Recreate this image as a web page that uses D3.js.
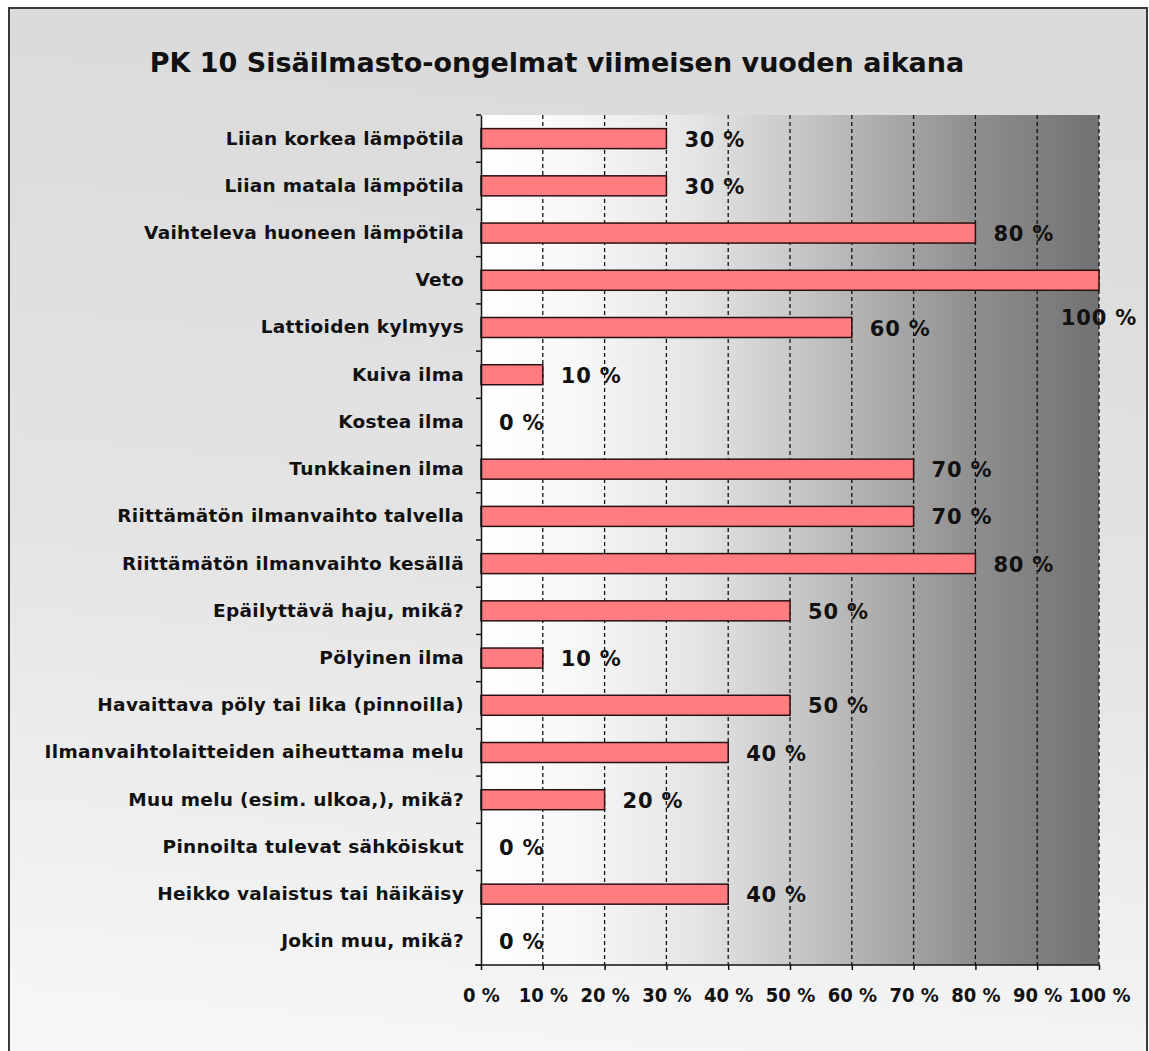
<!DOCTYPE html>
<html><head><meta charset="utf-8">
<script src="https://cdn.jsdelivr.net/npm/d3@7"></script>
<style>body{margin:0;background:#fff}svg{display:block}</style>
</head><body>
<script>
const title = "PK 10 Sisäilmasto-ongelmat viimeisen vuoden aikana";
const categories = [
  "Liian korkea lämpötila","Liian matala lämpötila","Vaihteleva huoneen lämpötila","Veto",
  "Lattioiden kylmyys","Kuiva ilma","Kostea ilma","Tunkkainen ilma",
  "Riittämätön ilmanvaihto talvella","Riittämätön ilmanvaihto kesällä","Epäilyttävä haju, mikä?",
  "Pölyinen ilma","Havaittava pöly tai lika (pinnoilla)","Ilmanvaihtolaitteiden aiheuttama melu",
  "Muu melu (esim. ulkoa,), mikä?","Pinnoilta tulevat sähköiskut","Heikko valaistus tai häikäisy","Jokin muu, mikä?"
];
const values = [30,30,80,100,60,10,0,70,70,80,50,10,50,40,20,0,40,0];
const tickValues = [0,10,20,30,40,50,60,70,80,90,100];

const W=1149,H=1051;
const svg=d3.select("body").append("svg").attr("width",W).attr("height",H);
const defs=svg.append("defs");
const og=defs.append("linearGradient").attr("id","outer").attr("x1",0.2).attr("y1",0).attr("x2",0.1).attr("y2",1);
og.append("stop").attr("offset","0%").attr("stop-color","#dadada");
og.append("stop").attr("offset","50%").attr("stop-color","#e4e4e4");
og.append("stop").attr("offset","100%").attr("stop-color","#f8f8f8");
const pg=defs.append("linearGradient").attr("id","plotbg").attr("x1",0).attr("y1",0).attr("x2",1).attr("y2",0);
[[0,"#ffffff"],[0.15,"#f8f8f8"],[0.35,"#e4e4e4"],[0.5,"#cacaca"],[0.65,"#ababab"],[0.8,"#8e8e8e"],[1,"#727272"]]
  .forEach(([o,c])=>pg.append("stop").attr("offset",o).attr("stop-color",c));

svg.append("rect").attr("x",9).attr("y",8).attr("width",1138).attr("height",1060)
  .attr("fill","url(#outer)").attr("stroke","#3a3a3a").attr("stroke-width",2);

const font="Tahoma, 'DejaVu Sans', Verdana, sans-serif";
const narrow="'Liberation Sans Narrow', 'DejaVu Sans Condensed', 'Arial Narrow', sans-serif";
svg.append("text").attr("x",557).attr("y",72).attr("text-anchor","middle")
  .attr("font-family",font).attr("font-weight","bold").attr("font-size",27).attr("fill","#111")
  .text(title);

const m={l:481,r:1099,t:115,b:965};
const x=d3.scaleLinear().domain([0,100]).range([m.l,m.r]);
const y=d3.scaleBand().domain(categories).range([m.t,m.b]).paddingInner(0).paddingOuter(0);

svg.append("rect").attr("x",m.l).attr("y",m.t).attr("width",m.r-m.l).attr("height",m.b-m.t).attr("fill","url(#plotbg)");

// gridlines
svg.append("g").selectAll("line").data(tickValues.slice(1)).join("line")
  .attr("x1",d=>x(d)).attr("x2",d=>x(d)).attr("y1",m.t).attr("y2",m.b)
  .attr("stroke","#111").attr("stroke-width",1.3).attr("stroke-dasharray","4,3");

const bh=20;
svg.append("g").selectAll("rect").data(categories).join("rect")
  .attr("x",x(0)).attr("y",(d)=>y(d)+y.bandwidth()/2-bh/2)
  .attr("width",(d,i)=>x(values[i])-x(0)).attr("height",bh)
  .attr("fill",(d,i)=>values[i]>0?"#ff7c80":"none")
  .attr("stroke",(d,i)=>values[i]>0?"#2a1010":"none").attr("stroke-width",1.5);

// y axis
const ya=svg.append("g").attr("transform",`translate(${m.l},0)`)
  .call(d3.axisLeft(y).tickSize(0).tickPadding(17));
ya.select(".domain").attr("stroke","#111").attr("stroke-width",1.5);
ya.selectAll("text").attr("font-family",font).attr("font-weight","bold").attr("font-size",18.5)
  .attr("letter-spacing","0.3px").attr("fill","#111");
// band boundary ticks
svg.append("g").selectAll("line").data(d3.range(categories.length+1)).join("line")
  .attr("x1",m.l-5).attr("x2",m.l).attr("y1",i=>m.t+i*y.step()).attr("y2",i=>m.t+i*y.step())
  .attr("stroke","#111").attr("stroke-width",1.5);

// x axis
const xa=svg.append("g").attr("transform",`translate(0,${m.b})`)
  .call(d3.axisBottom(x).tickValues(tickValues).tickFormat(d=>d+" %").tickSize(5).tickPadding(22));
xa.select(".domain").attr("stroke","#111").attr("stroke-width",1.5).attr("d",`M${m.l-6},0H${m.r}`);
xa.selectAll(".tick line").attr("stroke","#111").attr("stroke-width",1.5);
xa.selectAll("text").attr("font-family",narrow).attr("font-weight","bold").attr("font-size",20).attr("fill","#111")
  .attr("dy","0.5em");

// value labels
svg.append("g").selectAll("text").data(categories).join("text")
  .attr("x",(d,i)=>values[i]>=100?x(values[i])+38:x(values[i])+18)
  .attr("y",(d,i)=>y(d)+y.bandwidth()/2+(values[i]>=100?45:8))
  .attr("text-anchor",(d,i)=>values[i]>=100?"end":"start")
  .attr("font-family",font).attr("font-weight","bold").attr("font-size",21).attr("letter-spacing","0.8px").attr("fill","#111")
  .text((d,i)=>values[i]+" %");
</script>
</body></html>
